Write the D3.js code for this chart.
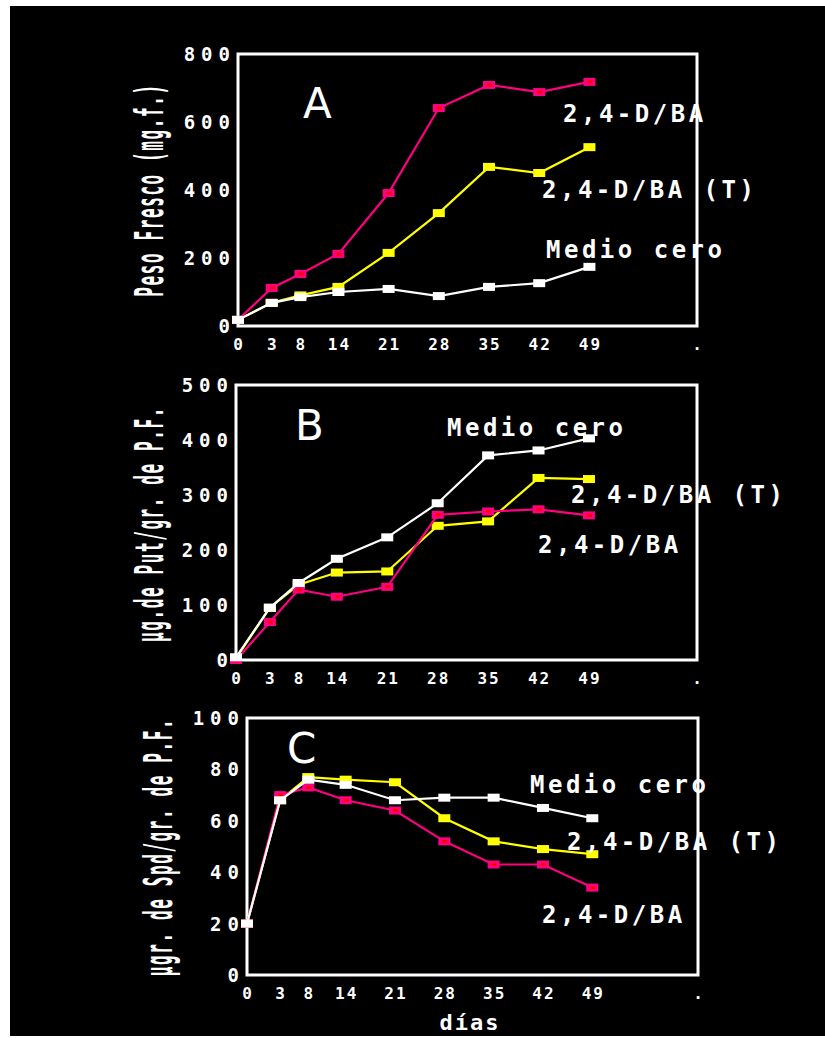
<!DOCTYPE html>
<html>
<head>
<meta charset="utf-8">
<title>Peso fresco, Put y Spd</title>
<script src="https://d3js.org/d3.v7.min.js"></script>
<style>
  body { margin: 0; background: #fff; }
  #bck { fill: #000; }
  .box { fill: none; stroke: #fff; stroke-width: 3px; }
  .tk { fill: #fff; font-family: "DejaVu Sans Mono", monospace; font-weight: bold; }
  .ytk { font-size: 19px; letter-spacing: 6px; }
  .xtk { font-size: 16px; letter-spacing: 2px; }
  .ttl { fill: #fff; font-family: "DejaVu Sans Mono", monospace; font-weight: bold; font-size: 16px; letter-spacing: 1.6px; }
  .lbl { fill: #fff; font-family: "DejaVu Sans Mono", monospace; font-weight: bold; font-size: 24px; letter-spacing: 3.5px; }
  .let { fill: #fff; font-family: "DejaVu Sans", sans-serif; font-size: 42px; }
  .ln { fill: none; stroke-width: 2.2px; stroke-linejoin: miter; }
</style>
</head>
<body>
<svg id="chart"></svg>
<script>
// days of sampling (x position) and their tick labels
var days = [0, 4.7, 8.7, 14, 21, 28, 35, 42, 49];
var dayLabels = ["0", "3", "8", "14", "21", "28", "35", "42", "49"];

// A: peso fresco (mg)
var pesoBA   = [18, 112, 153, 212, 391, 641, 709, 688, 718];
var pesoBAT  = [18, 68, 90, 115, 215, 332, 468, 450, 526];
var pesoCero = [18, 68, 85, 100, 109, 88, 115, 126, 174];
// B: putrescina
var putBA   = [0, 69, 128, 115, 133, 264, 270, 274, 263];
var putBAT  = [3, 95, 137, 159, 161, 244, 252, 331, 329];
var putCero = [5, 95, 140, 184, 223, 285, 372, 381, 403];
// C: espermidina
var spdBA   = [20, 70, 73, 68, 64, 52, 43, 43, 34];
var spdBAT  = [20, 68, 77, 76, 75, 61, 52, 49, 47];
var spdCero = [20, 68, 76, 74, 68, 69, 69, 65, 61];

var ticksA = [0, 200, 400, 600, 800],
    ticksB = [0, 100, 200, 300, 400, 500],
    ticksC = [0, 20, 40, 60, 80, 100];

var seriesNames = ["2,4-D/BA (T)", "2,4-D/BA", "Medio cero"];
var colors = {"2,4-D/BA (T)": "#ffff00", "2,4-D/BA": "#ff0080", "Medio cero": "#ffffff"};

var W = 825, H = 1038;
var svg = d3.select("#chart").attr("width", W).attr("height", H);
svg.append("rect").attr("id", "bck").attr("x", 10).attr("y", 6).attr("width", W - 10).attr("height", H - 8);

var panels = [
  {letter: "A", box: [238, 54, 697, 326], ticks: ticksA, title: "Peso Fresco (mg.f.)", tx: 163, ty: 190,
   data: [pesoBAT, pesoBA, pesoCero], lp: [[542, 198], [563, 122], [546, 258]], letPos: [303, 118]},
  {letter: "B", box: [236, 385, 697, 660], ticks: ticksB, title: "µg.de Put/gr. de P.F.", tx: 163, ty: 524,
   data: [putBAT, putBA, putCero], lp: [[571, 503], [538, 553], [447, 436]], letPos: [295, 440]},
  {letter: "C", box: [247, 718, 698, 975], ticks: ticksC, title: "µgr. de Spd/gr. de P.F.", tx: 172, ty: 847,
   data: [spdBAT, spdBA, spdCero], lp: [[567, 850], [542, 923], [530, 793]], letPos: [287, 763]}
];

panels.forEach(function(p) {
  var b = p.box;
  var x = d3.scaleLinear().domain([0, 64]).range([b[0], b[2]]);
  var y = d3.scaleLinear().domain([0, d3.max(p.ticks)]).range([b[3], b[1]]);
  var g = svg.append("g");

  g.append("rect").attr("class", "box")
    .attr("x", b[0]).attr("y", b[1]).attr("width", b[2] - b[0]).attr("height", b[3] - b[1]);

  // y tick labels
  g.selectAll(".ytk").data(p.ticks).enter().append("text")
    .attr("class", "tk ytk").attr("text-anchor", "end")
    .attr("x", b[0] - 2).attr("y", function(d) { return y(d) + 7; })
    .text(function(d) { return d; });

  // x tick labels, plus the lone dot at the end of the axis
  var xt = days.map(function(d, i) { return {v: d, t: dayLabels[i]}; }).concat([{v: 64, t: "."}]);
  g.selectAll(".xtk").data(xt).enter().append("text")
    .attr("class", "tk xtk").attr("text-anchor", "middle")
    .attr("x", function(d) { return x(d.v) + 1; }).attr("y", b[3] + 24)
    .text(function(d) { return d.t; });

  // axis title
  g.append("text").attr("class", "ttl").attr("text-anchor", "middle")
    .attr("transform", "translate(" + p.tx + "," + p.ty + ") rotate(-90) scale(1,2.4)")
    .text(p.title);

  g.append("text").attr("class", "let").attr("x", p.letPos[0]).attr("y", p.letPos[1]).text(p.letter);

  var line = d3.line().x(function(d, i) { return x(days[i]); }).y(function(d) { return y(d); });

  p.data.forEach(function(vals, k) {
    var name = seriesNames[k], col = colors[name];
    g.append("path").attr("class", "ln").attr("d", line(vals)).attr("stroke", col);
    g.selectAll(".mk" + k).data(vals).enter().append("rect")
      .attr("x", function(d, i) { return x(days[i]) - 6; })
      .attr("y", function(d) { return y(d) - 4; })
      .attr("width", 12).attr("height", 8).attr("fill", col);
    if (name === "2,4-D/BA") {
      g.selectAll(".mc" + k).data(vals).enter().append("rect")
        .attr("x", function(d, i) { return x(days[i]) - 2; })
        .attr("y", function(d) { return y(d) - 1.5; })
        .attr("width", 5).attr("height", 3).attr("fill", "#ff0000");
    }
    g.append("text").attr("class", "lbl").attr("x", p.lp[k][0]).attr("y", p.lp[k][1]).text(name);
  });
});

svg.append("text").attr("class", "tk").attr("text-anchor", "middle")
  .style("font-size", "22px").style("letter-spacing", "2px")
  .attr("x", 470).attr("y", 1030).text("días");
</script>
</body>
</html>
